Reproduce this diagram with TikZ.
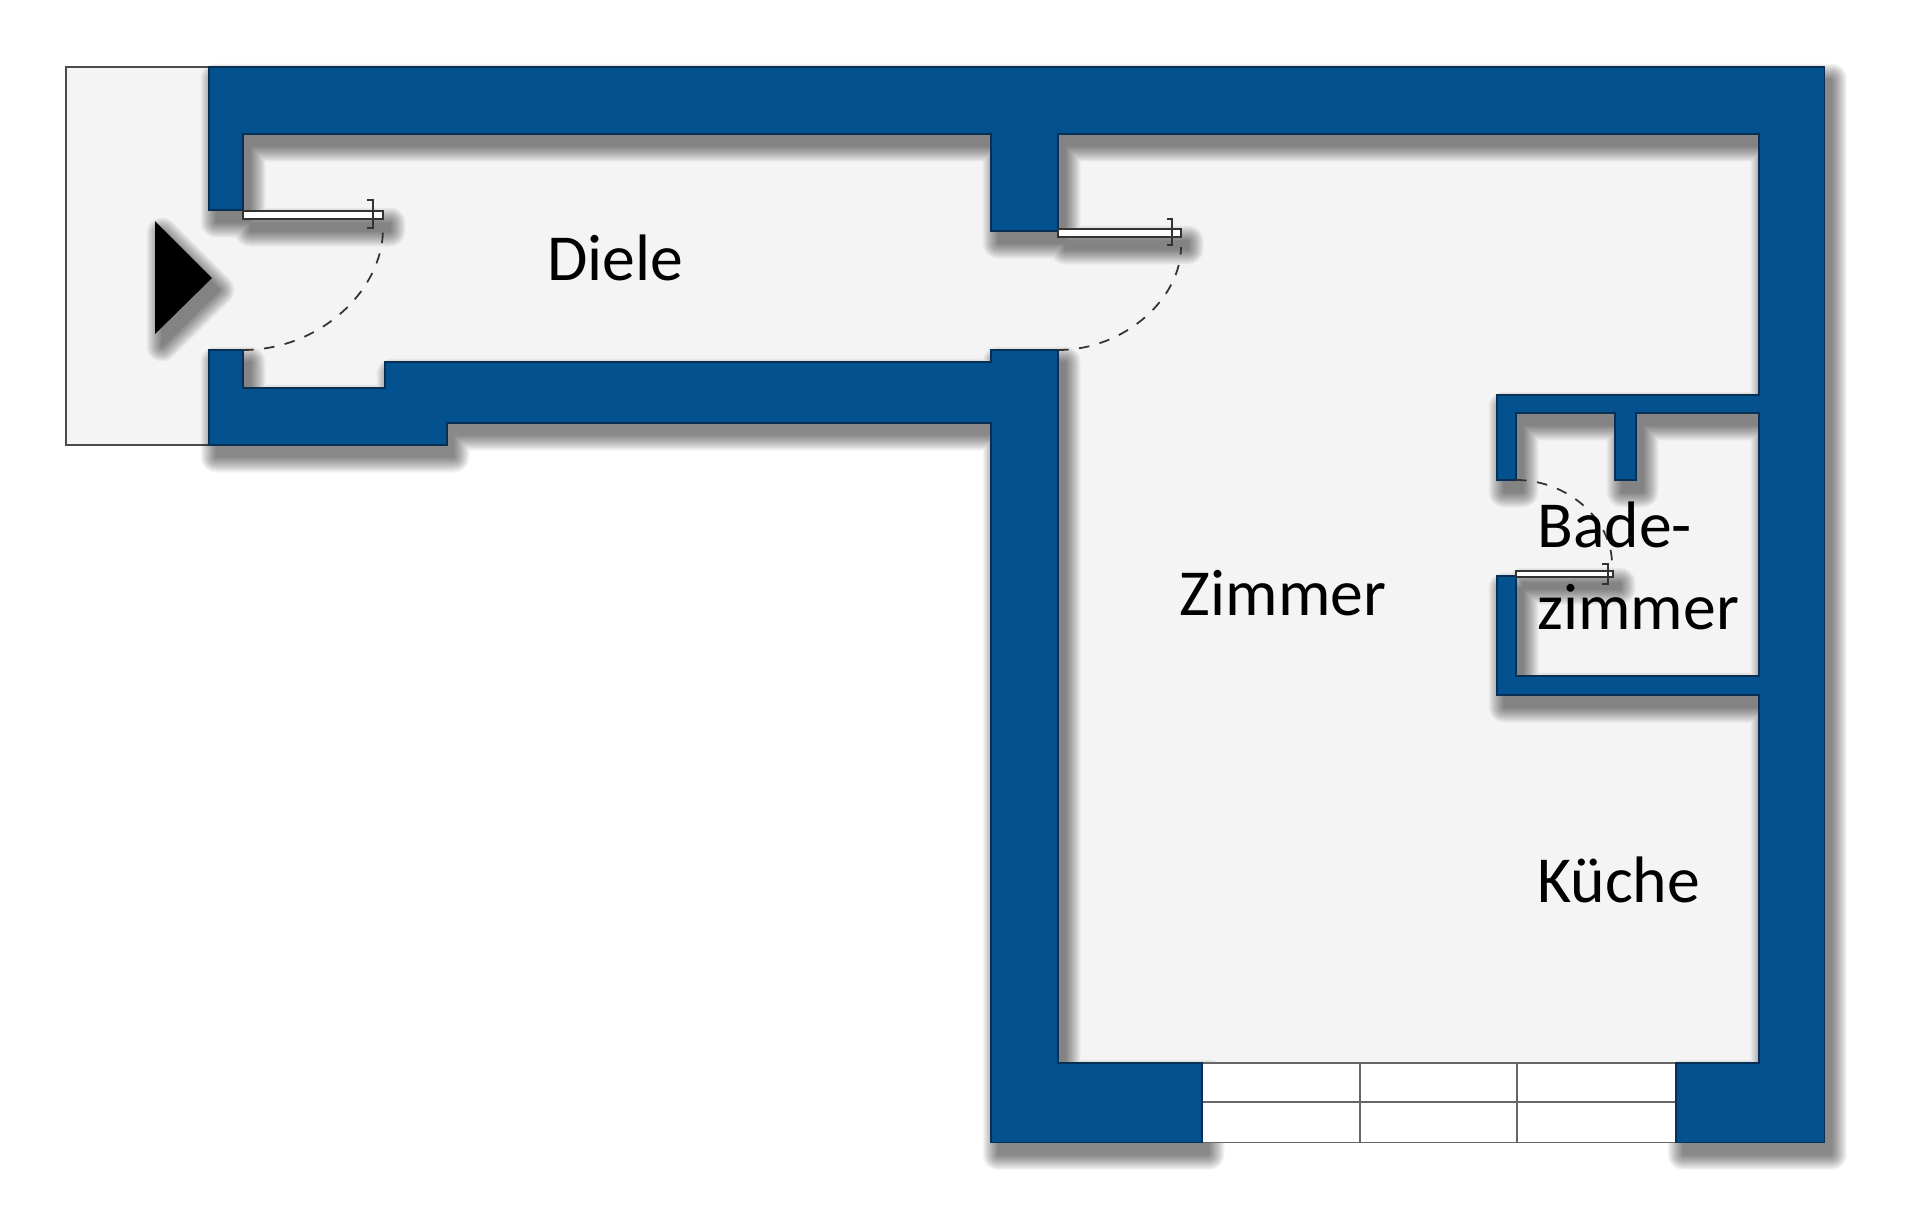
\documentclass[tikz,border=0pt]{standalone}
\usepackage{fontspec}
\setmainfont{Carlito}
\usetikzlibrary{calc}

\definecolor{wallblue}{HTML}{04518F}
\definecolor{walledge}{HTML}{0A2F55}
\definecolor{floorgrey}{HTML}{F4F4F4}

\newcommand{\wallupper}{(209,67) -- (1824.5,67) -- (1824.5,1142.5) -- (1676,1142.5) -- (1676,1063) -- (1759,1063) -- (1759,695) -- (1497,695) -- (1497,576) -- (1516,576) -- (1516,676) -- (1759,676) -- (1759,413) -- (1636,413) -- (1636,480) -- (1615,480) -- (1615,413) -- (1516,413) -- (1516,480) -- (1497,480) -- (1497,395) -- (1759,395) -- (1759,134) -- (1058,134) -- (1058,231) -- (991,231) -- (991,134) -- (243,134) -- (243,210) -- (209,210) -- cycle}
\newcommand{\walllower}{(209,350) -- (243,350) -- (243,388) -- (385,388) -- (385,362) -- (991,362) -- (991,350) -- (1058,350) -- (1058,1063) -- (1202,1063) -- (1202,1142.5) -- (991,1142.5) -- (991,423) -- (447,423) -- (447,445) -- (209,445) -- cycle}
\newcommand{\arrowtri}{(155,221) -- (212,278) -- (155,334) -- cycle}

\tikzset{
    wall/.style={fill=wallblue, draw=walledge, line width=0.6pt, line join=miter},
    leaf/.style={fill=white, draw=black!80, line width=0.9pt},
    hinge/.style={draw=black!80, line width=0.7pt},
    swing/.style={draw=black!80, line width=1pt, dash pattern=on 6pt off 6pt},
    pane/.style={draw=black!60, line width=0.85pt},
    roomlabel/.style={font=\fontsize{37.4}{47}\selectfont, inner sep=0pt, text=black}
}

\begin{document}
\begin{tikzpicture}[x=0.02cm, y=-0.02cm]
    \useasboundingbox (0,0) rectangle (1920,1218);
    \fill[white] (0,0) rectangle (1920,1218);

    \fill[floorgrey] (66,67) rectangle (243,445);
    \fill[floorgrey] (243,134) rectangle (1058,388);
    \fill[floorgrey] (1058,134) rectangle (1759,1063);
    \draw[draw=black!70, line width=0.7pt] (209,67) -- (66,67) -- (66,445) -- (209,445);

    \foreach \w in {1,3,...,31} {
        \begin{scope}[transparency group, opacity=0.035]
            \path[shift={(7,12)}, fill=black, draw=black, line width=\w*0.02cm, line join=round] \wallupper \walllower \arrowtri (243,211) rectangle (383,219) (1058,229) rectangle (1181,237) (1516,571) rectangle (1613,577);
        \end{scope}
    }

    \fill[white] (1202,1063) rectangle (1676,1142.5);
    \draw[pane] (1202,1063) -- (1676,1063);
    \draw[pane] (1202,1102) -- (1676,1102);
    \draw[pane] (1202,1142.5) -- (1676,1142.5);
    \draw[pane] (1360,1063) -- (1360,1142.5);
    \draw[pane] (1517,1063) -- (1517,1142.5);

    \draw[wall] \wallupper;
    \draw[wall] \walllower;
    \fill[black] \arrowtri;

    \draw[leaf] (243,211) rectangle (383,219);
    \draw[hinge] (367,200) -- (373,200) -- (373,228) -- (367,228);
    \draw[swing] (243,350) .. controls (320,350) and (383,290) .. (383,229);

    \draw[leaf] (1058,229) rectangle (1181,237);
    \draw[hinge] (1167,219) -- (1172,219) -- (1172,245) -- (1167,245);
    \draw[swing] (1058,350) .. controls (1125,350) and (1181,298) .. (1181,247);

    \draw[leaf] (1516,571) rectangle (1613,577);
    \draw[hinge] (1602,564) -- (1608,564) -- (1608,584) -- (1602,584);
    \draw[swing] (1516,480) .. controls (1568,480) and (1612,520) .. (1612,564);

    \node[roomlabel, anchor=base] at (615,280) (diele) {Diele};
    \node[roomlabel, anchor=base] at (1283,615) (zimmer) {Zimmer};
    \node[roomlabel, anchor=west, align=left] at (1537,566) (bad) {Bade-\\zimmer};
    \node[roomlabel, anchor=base west] at (1537,902) (kueche) {Küche};
\end{tikzpicture}
\end{document}
